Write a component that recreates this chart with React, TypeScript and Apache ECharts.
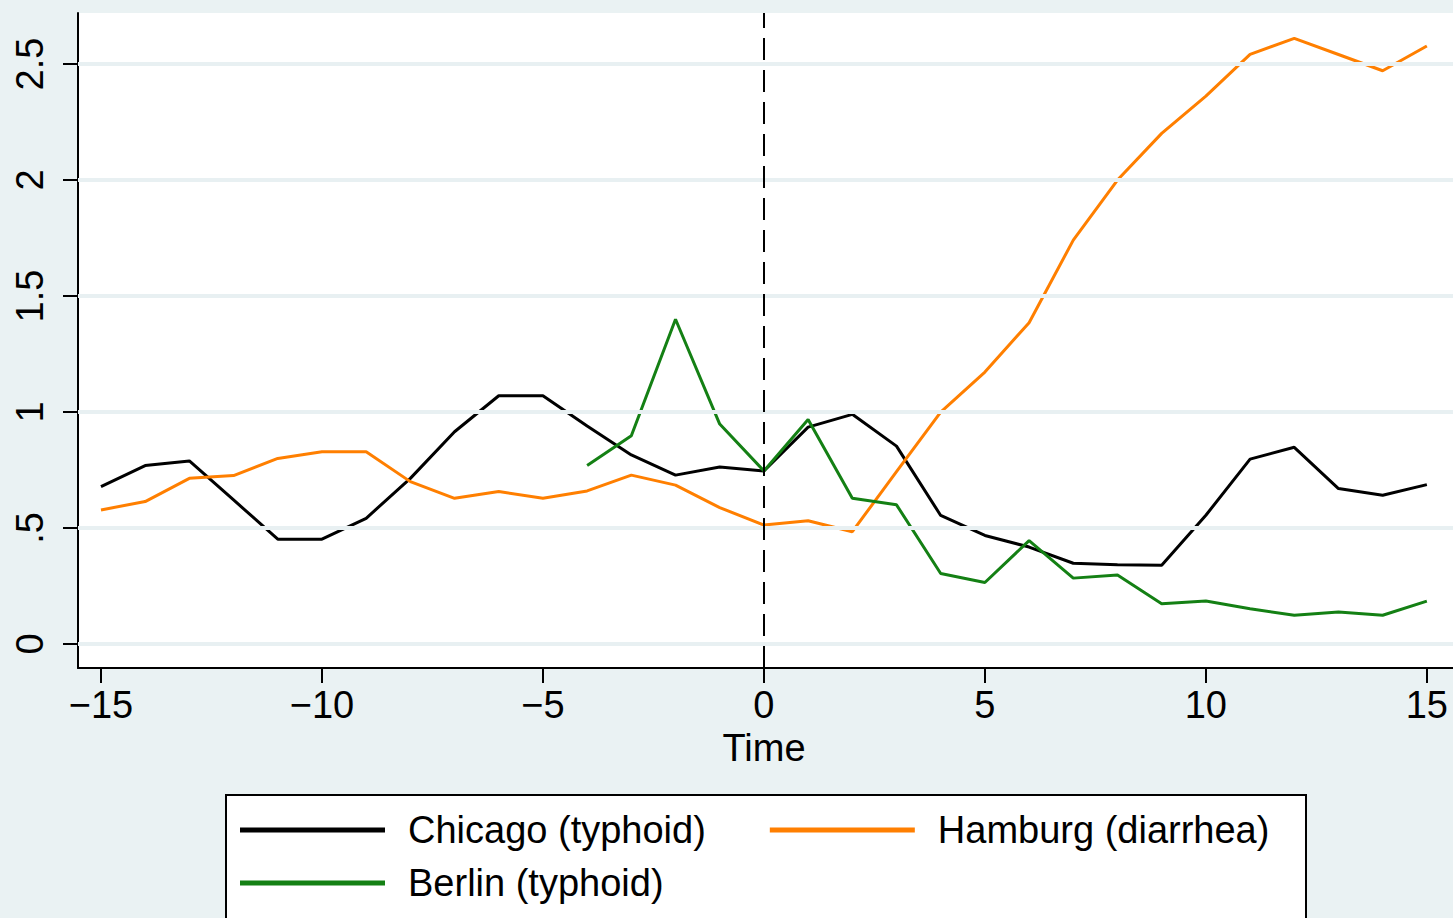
import React, { useEffect, useRef } from "react";
import * as echarts from "echarts";

const years: number[] = [-15,-14,-13,-12,-11,-10,-9,-8,-7,-6,-5,-4,-3,-2,-1,0,1,2,3,4,5,6,7,8,9,10,11,12,13,14,15];
const chicago: number[] = [0.678,0.769,0.789,0.621,0.452,0.452,0.542,0.714,0.915,1.07,1.07,0.94,0.815,0.728,0.763,0.746,0.935,0.99,0.853,0.554,0.468,0.418,0.348,0.342,0.34,0.555,0.797,0.848,0.67,0.641,0.687];
const hamburg: number[] = [0.578,0.614,0.714,0.726,0.8,0.829,0.829,0.7,0.628,0.657,0.628,0.66,0.728,0.685,0.588,0.513,0.531,0.484,0.743,1.0,1.172,1.385,1.741,2.0,2.201,2.362,2.542,2.611,2.541,2.471,2.578];
const berlinYears: number[] = [-4,-3,-2,-1,0,1,2,3,4,5,6,7,8,9,10,11,12,13,14,15];
const berlin: number[] = [0.769,0.898,1.4,0.948,0.746,0.968,0.628,0.6,0.304,0.265,0.446,0.284,0.297,0.174,0.185,0.152,0.124,0.138,0.124,0.185];
const xTicks: number[] = [-15,-10,-5,0,5,10,15];
const yTicks: number[] = [0,0.5,1,1.5,2,2.5];
const seriesNames: string[] = ["Chicago (typhoid)", "Hamburg (diarrhea)", "Berlin (typhoid)"];

const FONT = "'Liberation Sans', Arial, sans-serif";
const BG = "#eaf2f3";

export default function App() {
  const ref = useRef<HTMLDivElement>(null);
  useEffect(() => {
    if (!ref.current) return;
    const chart = echarts.init(ref.current, null, { renderer: "svg" });
    const legendText = { fontSize: 38, fontFamily: FONT, color: "#000", lineHeight: 40, padding: [0, 0, 0, 18] };
    chart.setOption({
      animation: false,
      backgroundColor: BG,
      grid: {
        left: 78, top: 13, width: 1382, height: 655,
        outerBoundsMode: "none", containLabel: false,
        show: true, backgroundColor: "#ffffff", borderWidth: 0,
      },
      xAxis: {
        type: "value", min: -15.52, max: 15.75,
        name: "Time", nameLocation: "middle", nameGap: 60,
        nameTextStyle: { fontSize: 38, fontFamily: FONT, color: "#000", padding: [0, 10, 0, 0] },
        axisLine: { show: true, onZero: false, lineStyle: { color: "#000", width: 2 } },
        axisTick: { show: true, length: 15, customValues: xTicks, lineStyle: { color: "#000", width: 2 } },
        axisLabel: {
          customValues: xTicks, margin: 18, fontSize: 38, fontFamily: FONT, color: "#000",
          formatter: (v: number) => (v < 0 ? "\u2212" + Math.abs(v) : String(v)),
        },
        splitLine: { show: false },
      },
      yAxis: {
        type: "value", min: -0.1034, max: 2.72,
        axisLine: { show: true, onZero: false, lineStyle: { color: "#000", width: 2 } },
        axisTick: { show: true, length: 15, customValues: yTicks, lineStyle: { color: "#000", width: 2 } },
        axisLabel: {
          customValues: yTicks, rotate: 90, margin: 29, fontSize: 38, fontFamily: FONT, color: "#000",
          formatter: (v: number) => (v === 0.5 ? ".5" : String(v)),
        },
        splitLine: { show: false },
      },
      legend: [
        {
          left: 235, top: 805, orient: "horizontal", icon: "rect",
          itemWidth: 145, itemHeight: 5, itemGap: 64,
          data: [seriesNames[0], seriesNames[1]], textStyle: legendText,
        },
        {
          left: 235, top: 858, orient: "horizontal", icon: "rect",
          itemWidth: 145, itemHeight: 5, itemGap: 64,
          data: [seriesNames[2]], textStyle: legendText,
        },
      ],
      graphic: [
        {
          type: "rect", left: 225, top: 794, z: -1,
          shape: { width: 1080, height: 140 },
          style: { fill: "#ffffff", stroke: "#000", lineWidth: 2 },
        },
      ],
      series: [
        {
          type: "line", name: "grid", data: [], z: 1, silent: true,
          markLine: {
            silent: true, symbol: "none", label: { show: false },
            lineStyle: { color: "#e8f0f2", width: 4, type: "solid" },
            data: yTicks.map((v) => ({ yAxis: v })),
          },
        },
        {
          type: "line", name: seriesNames[0], z: 3,
          data: years.map((y, i) => [y, chicago[i]]),
          showSymbol: false, lineStyle: { color: "#000000", width: 3 }, itemStyle: { color: "#000000" },
          markLine: {
            silent: true, symbol: "none", label: { show: false },
            lineStyle: { color: "#000", width: 2, type: [22, 10] },
            data: [{ xAxis: 0 }],
          },
        },
        {
          type: "line", name: seriesNames[1], z: 3,
          data: years.map((y, i) => [y, hamburg[i]]),
          showSymbol: false, lineStyle: { color: "#ff7f00", width: 3 }, itemStyle: { color: "#ff7f00" },
        },
        {
          type: "line", name: seriesNames[2], z: 3,
          data: berlinYears.map((y, i) => [y, berlin[i]]),
          showSymbol: false, lineStyle: { color: "#148014", width: 3 }, itemStyle: { color: "#148014" },
        },
      ],
    });
    return () => chart.dispose();
  }, []);
  return <div ref={ref} style={{ position: "fixed", left: 0, top: 0, width: 1453, height: 918 }} />;
}
